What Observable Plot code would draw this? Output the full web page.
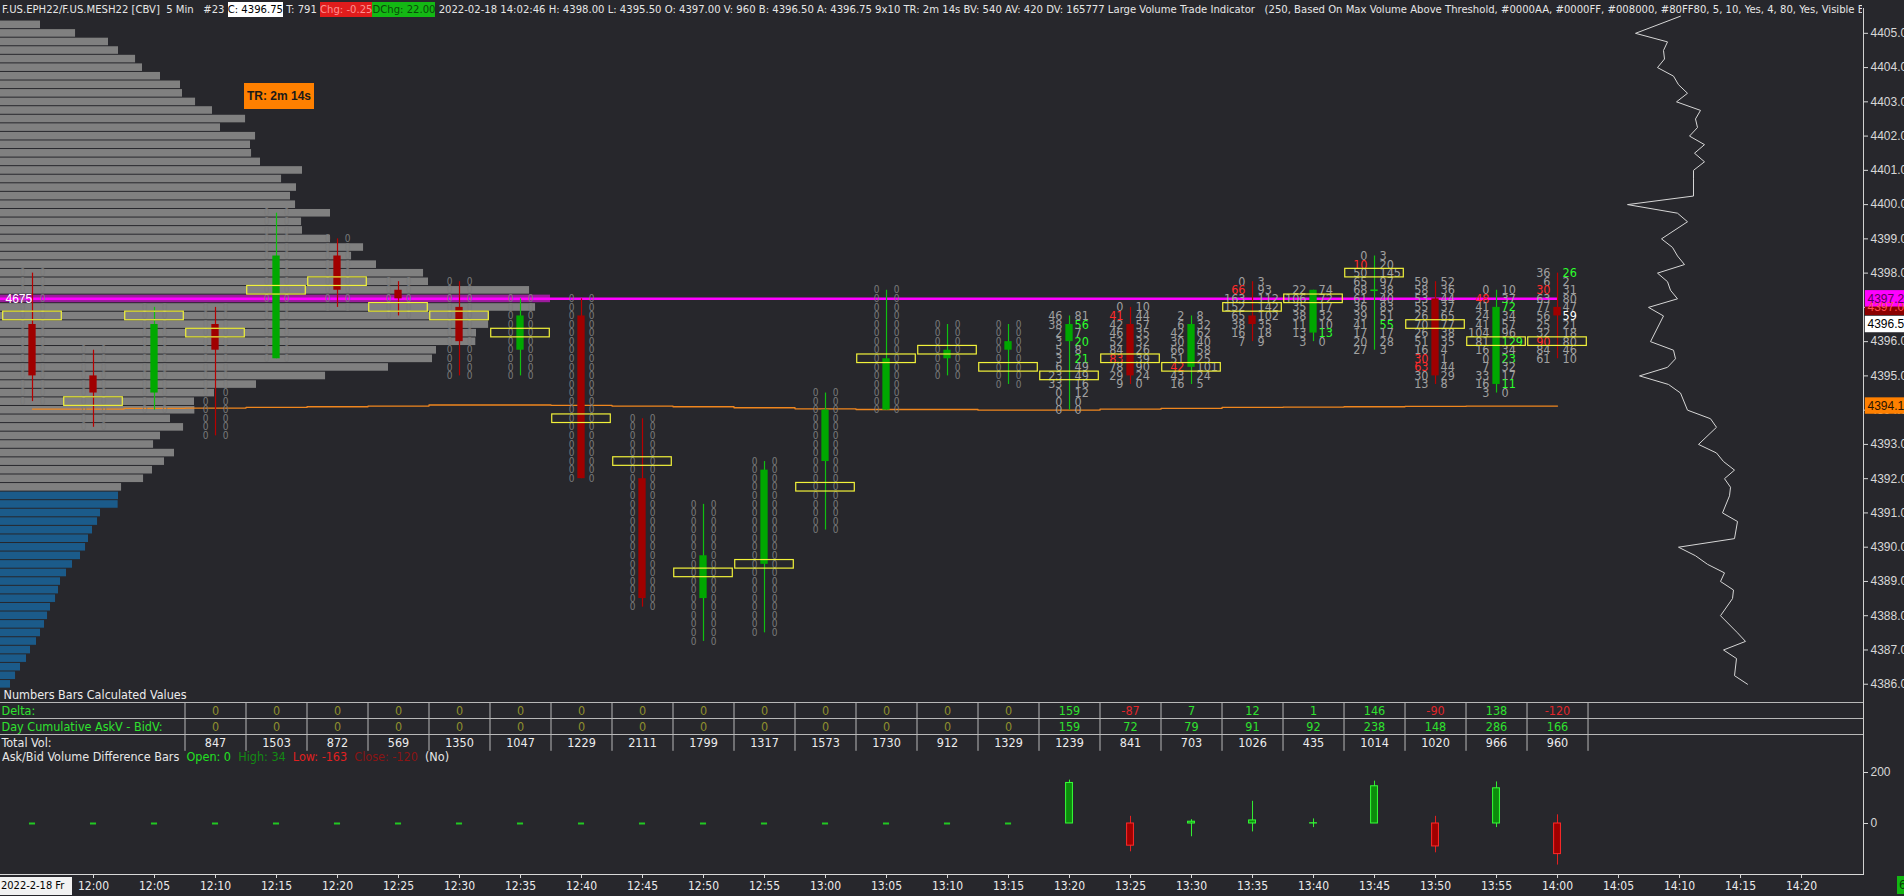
<!DOCTYPE html>
<html>
<head>
<meta charset="utf-8">
<script src="https://cdn.jsdelivr.net/npm/d3@7"></script>
<script src="https://cdn.jsdelivr.net/npm/@observablehq/plot@0.6"></script>
<style>
  html, body { margin:0; padding:0; background:#27272c; overflow:hidden; }
  #root { position:relative; width:1904px; height:896px; background:#27272c; overflow:hidden;
          font-family:"Liberation Sans Narrow","DejaVu Sans Condensed","Arial Narrow",sans-serif; color:#e6e6e6; }
  #root > * { position:absolute; }
  .hdr { left:2px; top:1px; width:1860px; height:18px; overflow:hidden; white-space:nowrap; font-size:11.2px; line-height:18px; }
  .hdr span { padding:1px 0; }
  .lbl { white-space:nowrap; font-size:12.5px; line-height:14px; }
</style>
</head>
<body>
<div id="root"></div>
<script>
// ---------------- DATA ----------------
const tick = 0.25;
const barTimes = ["11:55","12:00","12:05","12:10","12:15","12:20","12:25","12:30","12:35","12:40","12:45","12:50","12:55","13:00","13:05","13:10","13:15","13:20","13:25","13:30","13:35","13:40","13:45","13:50","13:55","14:00"];
const barOpen  = [4396.5,4395.0,4394.5,4396.5,4395.5,4398.5,4397.5,4397.0,4395.75,4396.75,4392.0,4388.5,4389.5,4392.5,4394.0,4395.5,4395.75,4396.0,4396.5,4395.25,4396.75,4396.25,4397.5,4397.25,4394.75,4397.0];
const barHigh  = [4398.0,4395.75,4397.0,4397.0,4399.75,4399.0,4397.75,4397.75,4397.25,4397.25,4393.75,4391.25,4392.5,4394.5,4397.5,4396.5,4396.5,4396.75,4397.0,4396.75,4397.75,4397.5,4398.5,4397.75,4397.5,4398.0];
const barLow   = [4394.25,4393.5,4394.0,4393.25,4395.5,4397.0,4396.75,4395.0,4395.0,4392.0,4388.25,4387.25,4387.5,4390.5,4394.0,4395.0,4394.75,4394.0,4394.75,4394.75,4396.0,4396.0,4395.75,4394.75,4394.5,4395.5];
const barClose = [4395.0,4394.5,4396.5,4395.75,4398.5,4397.5,4397.25,4396.0,4396.75,4392.0,4388.5,4389.75,4392.25,4394.0,4395.5,4395.75,4396.0,4396.5,4395.0,4396.5,4396.5,4397.5,4397.5,4395.0,4397.0,4396.75];
const barPoc   = [4396.75,4394.25,4396.75,4396.25,4397.5,4397.75,4397.0,4396.75,4396.25,4393.75,4392.5,4389.25,4389.5,4391.75,4395.5,4395.75,4395.25,4395.0,4395.5,4395.25,4397.0,4397.25,4398.0,4396.5,4396.0,4396.0];
const vwapSeries = [4394.03,4394.03,4394.05,4394.06,4394.08,4394.10,4394.12,4394.15,4394.15,4394.14,4394.12,4394.10,4394.07,4394.04,4394.02,4394.02,4394.00,4394.00,4394.03,4394.05,4394.08,4394.09,4394.10,4394.11,4394.12,4394.12];

// footprint (bid x ask) for bars with traded numbers, listed from bar high to bar low
const fpTimes = ["13:20","13:25","13:30","13:35","13:40","13:45","13:50","13:55","14:00"];
const fpBid = [
  [46,38,2,3,5,3,6,23,33,0,0,0],
  [0,41,42,46,52,84,83,78,29,9],
  [2,6,42,30,66,51,42,43,16],
  [0,66,163,152,65,38,16,7],
  [22,106,35,38,11,13,3],
  [0,10,50,65,68,61,36,39,41,17,20,27],
  [59,58,53,55,26,70,26,51,16,30,63,30,13],
  [0,48,41,24,41,104,81,16,0,7,33,16,3],
  [36,6,30,63,77,56,25,32,90,84,61]
];
const fpAsk = [
  [81,56,7,20,8,21,49,49,16,12,0,0],
  [10,44,57,35,32,26,39,90,24,0],
  [8,32,62,40,58,25,101,24,5],
  [3,93,112,142,102,35,18,9],
  [74,72,17,32,10,13,0],
  [3,20,145,97,38,40,83,51,55,17,28,3],
  [52,36,44,37,65,77,38,35,4,1,44,29,8],
  [10,37,72,34,57,96,129,34,23,32,17,11,0],
  [26,2,31,80,47,59,21,18,80,46,10]
];
const fpBidRed   = [[],[1,6],[6],[1],[],[1],[9,10],[1],[2,8]];
const fpAskGreen = [[1,3,5],[],[],[],[5],[8],[],[2,6,8,11],[0]];
const fpAskWhite = [[],[],[],[],[],[],[],[],[5]];

// session volume profile (left), from 4405.25 down by one tick
const profileTop = 4405.25;
const profileVol = [340,638,918,1003,1148,1207,1360,1530,1547,1658,1802,2083,1870,2168,2125,
  2134,2210,2567,2389,2516,2465,2508,2805,2559,2567,2805,3086,2984,3196,3596,3638,4497,4675,4548,4157,4149,4046,4040,3706,3672,3298,2763,2176,1819,1649,1652,1445,1556,1360,1301,1479,
  1394,1292,1216,1029,1003,1000,850,825,782,748,723,680,612,561,510,493,468,425,400,374,340,306,255,221,170,128,85];
const sessionPoc = 4397.25;
const sessionPocVol = 4675;
const valueAreaLow = 4391.75;

// right-hand per-price line indicator
const rpPrice = [4405.5,4405.0,4404.75,4404.5,4404.25,4404.0,4403.75,4403.5,4403.25,4403.0,4402.75,4402.5,4402.25,4402.0,4401.75,4401.5,4401.25,4401.0,4400.75,4400.25,4400.0,4399.75,4399.5,4399.0,4398.75,4398.5,4398.25,4398.0,4397.75,4397.5,4397.25,4397.0,4396.75,4396.0,4395.75,4395.5,4395.25,4395.0,4394.75,4394.5,4394.0,4393.75,4393.5,4393.0,4392.75,4392.5,4392.25,4392.0,4391.75,4391.5,4391.0,4390.75,4390.25,4390.0,4389.75,4389.5,4389.25,4389.0,4388.75,4388.5,4388.0,4387.5,4387.25,4387.0,4386.75,4386.25,4386.0];
const rpValue = [53,8,40,36,37,30,46,51,60,49,73,68,70,62,77,67,77,66,66,66,0,50,60,34,45,50,57,30,40,43,50,21,36,23,46,48,40,12,41,53,60,83,89,71,89,96,107,97,103,102,95,110,107,51,68,80,97,93,106,105,93,110,118,96,109,107,120];

// price tags on the right axis
const tagPrice = [4397.0, 4397.25, 4396.5, 4394.12];
const tagLabel = ["4397.00","4397.25","4396.50","4394.12"];
const tagFill  = ["#8b0000","#ff00ff","#ffffff","#ff8000"];
const tagText  = ["#ff5050","#5a005a","#000000","#2a1400"];
const priceTicks = [4386,4387,4388,4389,4390,4391,4392,4393,4394,4395,4396,4397,4398,4399,4400,4401,4402,4403,4404,4405];

// Numbers bars table
const tableTitle = "Numbers Bars Calculated Values";
const rowLabels = ["Delta:", "Day Cumulative AskV - BidV:", "Total Vol:"];
const rowLabelColors = ["#2fe22f", "#2fe22f", "#e8e8e8"];
const tableTimes = ["12:10","12:15","12:20","12:25","12:30","12:35","12:40","12:45","12:50","12:55","13:00","13:05","13:10","13:15","13:20","13:25","13:30","13:35","13:40","13:45","13:50","13:55","14:00"];
const tableDelta = [0,0,0,0,0,0,0,0,0,0,0,0,0,0,159,-87,7,12,1,146,-90,138,-120];
const tableCum   = [0,0,0,0,0,0,0,0,0,0,0,0,0,0,159,72,79,91,92,238,148,286,166];
const tableTotalVol = [847,1503,872,569,1350,1047,1229,2111,1799,1317,1573,1730,912,1329,1239,841,703,1026,435,1014,1020,966,960];

// Ask/Bid volume difference bars (open is 0 for every bar)
const diffHigh  = [0,0,0,0,0,0,0,0,0,0,0,0,0,0,0,0,0,170,28,15,87,18,166,28,163,34];
const diffLow   = [0,0,0,0,0,0,0,0,0,0,0,0,0,0,0,0,0,0,-111,-52,-33,-16,0,-115,-16,-163];
const diffClose = [0,0,0,0,0,0,0,0,0,0,0,0,0,0,0,0,0,159,-87,7,12,1,146,-90,138,-120];
const diffTicks = [0, 200];

const timeTicks = ["12:00","12:05","12:10","12:15","12:20","12:25","12:30","12:35","12:40","12:45","12:50","12:55","13:00","13:05","13:10","13:15","13:20","13:25","13:30","13:35","13:40","13:45","13:50","13:55","14:00","14:05","14:10","14:15","14:20"];

const headerParts = [
  {text: "F.US.EPH22/F.US.MESH22 [CBV]\u00a0\u00a05 Min\u00a0\u00a0\u00a0#23 "},
  {text: "C: 4396.75", bg: "#ffffff", fg: "#000000"},
  {text: " T: 791 "},
  {text: "Chg: -0.25", bg: "#e01c1c", fg: "#ff9090"},
  {text: "DChg: 22.00", bg: "#14b814", fg: "#0a4a0a"},
  {text: " 2022-02-18 14:02:46 H: 4398.00 L: 4395.50 O: 4397.00 V: 960 B: 4396.50 A: 4396.75 9x10 TR: 2m 14s BV: 540 AV: 420 DV: 165777 Large Volume Trade Indicator\u00a0\u00a0\u00a0(250, Based On Max Volume Above Threshold, #0000AA, #0000FF, #008000, #80FF80, 5, 10, Yes, 4, 80, Yes, Visible Bars)"}
];
const lowerLabelParts = [
  {text: "Ask/Bid Volume Difference Bars\u00a0\u00a0", fg: "#e6e6e6"},
  {text: "Open: 0\u00a0\u00a0", fg: "#22e022"},
  {text: "High: 34\u00a0\u00a0", fg: "#138a13"},
  {text: "Low: -163\u00a0\u00a0", fg: "#e02020"},
  {text: "Close: -120\u00a0\u00a0", fg: "#8a1414"},
  {text: "(No)", fg: "#e6e6e6"}
];
const trText = "TR: 2m 14s";
const dateText = "2022-2-18 Fr";

// ---------------- LAYOUT / HELPERS ----------------
const W = 1904, axisX = 1863;
const mainTop = 20, mainH = 670;
const yDomain = [4385.817, 4405.374];
const xDomain = [-7.623, 145.08];
const xMin = xDomain[0], xMax = xDomain[1];
const pocBarPx = 550;
const fontNarrow = '"Liberation Sans Narrow","DejaVu Sans Condensed","Arial Narrow",sans-serif';
const fontAxis = '"Liberation Sans","DejaVu Sans",Arial,sans-serif';
const UP = "#00a800", DN = "#a00000", UPW = "#10c010", DNW = "#b80000";
const FP_GRAY = "#a0a0a0", FP_RED = "#ff2b2b", FP_GREEN = "#2bff2b";

const toMin = s => { const [h, m] = s.split(":").map(Number); return (h - 12) * 60 + m; };
const fmtTime = m => `${12 + Math.floor(m / 60)}:${String(m % 60).padStart(2, "0")}`;

const bars = barTimes.map((s, i) => ({
  t: toMin(s), o: barOpen[i], h: barHigh[i], l: barLow[i], c: barClose[i],
  poc: barPoc[i], vwap: vwapSeries[i], up: barClose[i] >= barOpen[i]
}));
const lastT = toMin(barTimes[barTimes.length - 1]);

const fpCells = [], fpZero = [];
bars.forEach((b, i) => {
  const k = fpTimes.indexOf(barTimes[i]);
  const n = Math.round((b.h - b.l) / tick) + 1;
  for (let r = 0; r < n; r++) {
    const p = b.h - r * tick;
    if (k < 0) fpZero.push({t: b.t, p});
    else fpCells.push({
      t: b.t, p, bid: String(fpBid[k][r]), ask: String(fpAsk[k][r]),
      bidColor: fpBidRed[k].includes(r) ? FP_RED : FP_GRAY,
      askColor: fpAskGreen[k].includes(r) ? FP_GREEN : (fpAskWhite[k].includes(r) ? "#ffffff" : FP_GRAY)
    });
  }
});

const profile = profileVol.map((v, i) => {
  const p = profileTop - i * tick;
  return {p, vol: v, color: p === sessionPoc ? "#9c1c9c" : (p >= valueAreaLow ? "#808080" : "#1b5b8a")};
});
const rightLine = rpPrice.map((p, i) => ({p, v: rpValue[i]}));
const tags = tagPrice.map((p, i) => ({p, label: tagLabel[i], fill: tagFill[i], color: tagText[i]}));

const root = document.getElementById("root");
function place(el, left, top) { el.style.position = "absolute"; el.style.left = left + "px"; el.style.top = top + "px"; root.append(el); return el; }
function spans(parts, cls) {
  const d = document.createElement("div");
  d.className = cls;
  parts.forEach(pt => {
    const s = document.createElement("span");
    s.textContent = pt.text;
    if (pt.bg) s.style.background = pt.bg;
    if (pt.fg) s.style.color = pt.fg;
    d.append(s);
  });
  return d;
}
const baseStyle = {background: "transparent", overflow: "visible", color: "#d8d8d8"};

// ---------------- HEADER ----------------
place(spans(headerParts, "hdr"), 2, 1);

// ---------------- LEFT VOLUME PROFILE ----------------
const profilePlot = Plot.plot({
  width: W, height: mainH, marginLeft: 0, marginRight: W - axisX, marginTop: 0, marginBottom: 0,
  style: baseStyle,
  x: {domain: [0, sessionPocVol * axisX / pocBarPx], axis: null},
  y: {domain: yDomain, axis: null},
  color: {type: "identity"},
  marks: [
    Plot.rect(profile, {x1: () => 0, x2: "vol", y1: d => d.p - tick / 2, y2: d => d.p + tick / 2, fill: "color", insetTop: 0.6, insetBottom: 0.4})
  ]
});
place(profilePlot, 0, mainTop);

// ---------------- RIGHT PROFILE LINE ----------------
const rightPlot = Plot.plot({
  width: W, height: mainH, marginLeft: 1627, marginRight: 157, marginTop: 0, marginBottom: 0,
  style: baseStyle,
  x: {domain: [0, 120], axis: null},
  y: {domain: yDomain, axis: null},
  marks: [
    Plot.line(rightLine, {x: "v", y: "p", stroke: "#d6d6d6", strokeWidth: 1})
  ]
});
place(rightPlot, 0, mainTop);

// ---------------- MAIN PRICE PANEL ----------------
const main = Plot.plot({
  width: W, height: mainH, marginLeft: 0, marginRight: W - axisX, marginTop: 0, marginBottom: 0,
  style: {...baseStyle, fontSize: "12px", fontFamily: fontAxis},
  x: {domain: xDomain, axis: null},
  y: {domain: yDomain, axis: null},
  color: {type: "identity"},
  marks: [
    Plot.ruleY([sessionPoc], {x1: () => xMin, x2: () => lastT, stroke: "#ff00ff", strokeWidth: 2.5}),
    Plot.line(bars, {x: "t", y: "vwap", curve: "step", stroke: "#f0861e", strokeWidth: 1.3}),
    Plot.text(fpZero, {x: "t", y: "p", text: () => "0", dx: -10, fill: "#7a7a7a", fontSize: 10, fontFamily: fontNarrow}),
    Plot.text(fpZero, {x: "t", y: "p", text: () => "0", dx: 10, fill: "#7a7a7a", fontSize: 10, fontFamily: fontNarrow}),
    Plot.text(fpCells, {x: "t", y: "p", text: "bid", fill: "bidColor", textAnchor: "end", dx: -7, fontSize: 12.5, fontFamily: fontNarrow}),
    Plot.text(fpCells, {x: "t", y: "p", text: "ask", fill: "askColor", textAnchor: "start", dx: 5, fontSize: 12.5, fontFamily: fontNarrow}),
    Plot.ruleX(bars, {x: "t", y1: "l", y2: "h", stroke: d => d.up ? UPW : DNW, strokeWidth: 1.2}),
    Plot.rect(bars.filter(b => b.o !== b.c), {x1: d => d.t - 0.3, x2: d => d.t + 0.3, y1: "o", y2: "c", fill: d => d.up ? UP : DN}),
    Plot.ruleY(bars.filter(b => b.o === b.c), {y: "c", x1: d => d.t - 0.3, x2: d => d.t + 0.3, stroke: UPW, strokeWidth: 1.6}),
    Plot.rect(bars, {x1: d => d.t - 2.4, x2: d => d.t + 2.4, y1: d => d.poc - tick / 2, y2: d => d.poc + tick / 2, fill: "none", stroke: "#f2f23a", strokeWidth: 1.2}),
    Plot.text([sessionPocVol], {x: () => xMin, y: () => sessionPoc, text: d => String(d), textAnchor: "start", dx: 5, fill: "#ffffff", fontSize: 12, fontFamily: fontAxis}),
    Plot.axisY(priceTicks, {anchor: "right", tickSize: 4, tickPadding: 3, tickFormat: d => d.toFixed(2), label: null, fontSize: 12, fontFamily: fontAxis}),
    Plot.rect(tags, {x1: () => xMax + 0.15, x2: () => xMax + 4.5, y1: d => d.p - 0.24, y2: d => d.p + 0.24, fill: "fill"}),
    Plot.text(tags, {x: () => xMax, y: "p", dx: 4, text: "label", textAnchor: "start", fill: "color", fontSize: 12, fontFamily: fontAxis})
  ]
});
place(main, 0, mainTop);

// TR box
const tr = document.createElement("div");
tr.textContent = trText;
Object.assign(tr.style, {width: "70px", height: "26px", lineHeight: "26px", background: "#ff8000", color: "#1a1a1a",
  fontWeight: "bold", fontSize: "12px", textAlign: "center", whiteSpace: "nowrap", overflow: "hidden", fontFamily: fontAxis});
place(tr, 244, 83);

// ---------------- TABLE ----------------
const sgnColor = v => v === 0 ? "#8f8f2e" : (v > 0 ? "#2fe22f" : "#e0262a");
const cells = [];
tableTimes.forEach((s, i) => {
  const t = toMin(s);
  cells.push({t, row: 0, text: String(tableDelta[i]), color: sgnColor(tableDelta[i])});
  cells.push({t, row: 1, text: String(tableCum[i]), color: sgnColor(tableCum[i])});
  cells.push({t, row: 2, text: String(tableTotalVol[i]), color: "#ececec"});
});
const tableBounds = tableTimes.map(s => toMin(s) - 2.5).concat([toMin(tableTimes[tableTimes.length - 1]) + 2.5]);
const table = Plot.plot({
  width: W, height: 58, marginLeft: 0, marginRight: W - axisX, marginTop: 0, marginBottom: 0,
  style: {...baseStyle, fontSize: "12.5px", fontFamily: fontNarrow},
  x: {domain: xDomain, axis: null},
  y: {domain: [2.375, -1.25], axis: null},
  color: {type: "identity"},
  marks: [
    Plot.ruleY([-0.5, 0.5, 1.5], {stroke: "#b8b8b8"}),
    Plot.ruleX(tableBounds, {y1: () => -0.5, y2: () => 2.55, stroke: "#b8b8b8"}),
    Plot.text(cells, {x: "t", y: "row", text: "text", fill: "color", fontSize: 12.5, fontFamily: fontNarrow}),
    Plot.text(rowLabels, {frameAnchor: "left", y: (d, i) => i, text: d => d, fill: (d, i) => rowLabelColors[i], textAnchor: "start", dx: 1, fontSize: 12.5, fontFamily: fontNarrow}),
    Plot.text([tableTitle], {frameAnchor: "left", y: () => -0.94, text: d => d, fill: "#ececec", textAnchor: "start", dx: 3, fontSize: 12.5, fontFamily: fontNarrow})
  ]
});
place(table, 0, 690);

// ---------------- LOWER PANEL ----------------
const diffBars = barTimes.map((s, i) => ({t: toMin(s), o: 0, h: diffHigh[i], l: diffLow[i], c: diffClose[i], up: diffClose[i] >= 0}));
const flat = diffBars.filter(d => d.h === 0 && d.l === 0 && d.c === 0);
const moving = diffBars.filter(d => !(d.h === 0 && d.l === 0 && d.c === 0));
const lower = Plot.plot({
  width: W, height: 148, marginLeft: 0, marginRight: W - axisX, marginTop: 0, marginBottom: 22,
  style: {...baseStyle, fontSize: "12px", fontFamily: fontAxis},
  x: {domain: xDomain},
  y: {domain: [-200, 294.1]},
  color: {type: "identity"},
  marks: [
    Plot.ruleY(flat, {y: () => 0, x1: d => d.t - 0.25, x2: d => d.t + 0.25, stroke: "#22c822", strokeWidth: 2}),
    Plot.ruleX(moving, {x: "t", y1: "l", y2: "h", stroke: d => d.up ? "#33ee33" : "#e82020"}),
    Plot.rect(moving, {x1: d => d.t - 0.28, x2: d => d.t + 0.28, y1: d => Math.min(0, d.c), y2: d => Math.max(0, d.c),
      fill: d => d.up ? "#0c8c0c" : "#a00000", stroke: d => d.up ? "#36ff36" : "#ff2a2a", strokeWidth: 1}),
    Plot.axisY(diffTicks, {anchor: "right", tickSize: 4, tickPadding: 3, label: null, fontSize: 12, fontFamily: fontAxis}),
    Plot.axisX(timeTicks.map(toMin), {anchor: "bottom", tickSize: 4, tickPadding: 3, tickFormat: fmtTime, label: null, fill: "#ececec", fontSize: 12, fontFamily: fontNarrow}),
    Plot.frame({anchor: "bottom", stroke: "#d8d8d8"})
  ]
});
place(lower, 0, 748);
place(spans(lowerLabelParts, "lbl"), 2, 750);

// ---------------- OVERLAYS ----------------
const axisLine = document.createElement("div");
Object.assign(axisLine.style, {width: "1px", height: "866px", background: "#d0d0d0"});
place(axisLine, axisX, 8);

const dateBox = document.createElement("div");
dateBox.textContent = dateText;
Object.assign(dateBox.style, {width: "71px", height: "18px", lineHeight: "18px", background: "#f2f2f2", color: "#000",
  fontSize: "11px", fontFamily: fontNarrow, paddingLeft: "1px", whiteSpace: "nowrap", overflow: "hidden"});
place(dateBox, 0, 877);

const cntBox = document.createElement("div");
cntBox.textContent = "6";
Object.assign(cntBox.style, {width: "14px", height: "18px", lineHeight: "18px", background: "#12b812", color: "#0a3a0a",
  fontSize: "12.5px", paddingLeft: "2px"});
place(cntBox, 1897, 876);
</script>
</body>
</html>
